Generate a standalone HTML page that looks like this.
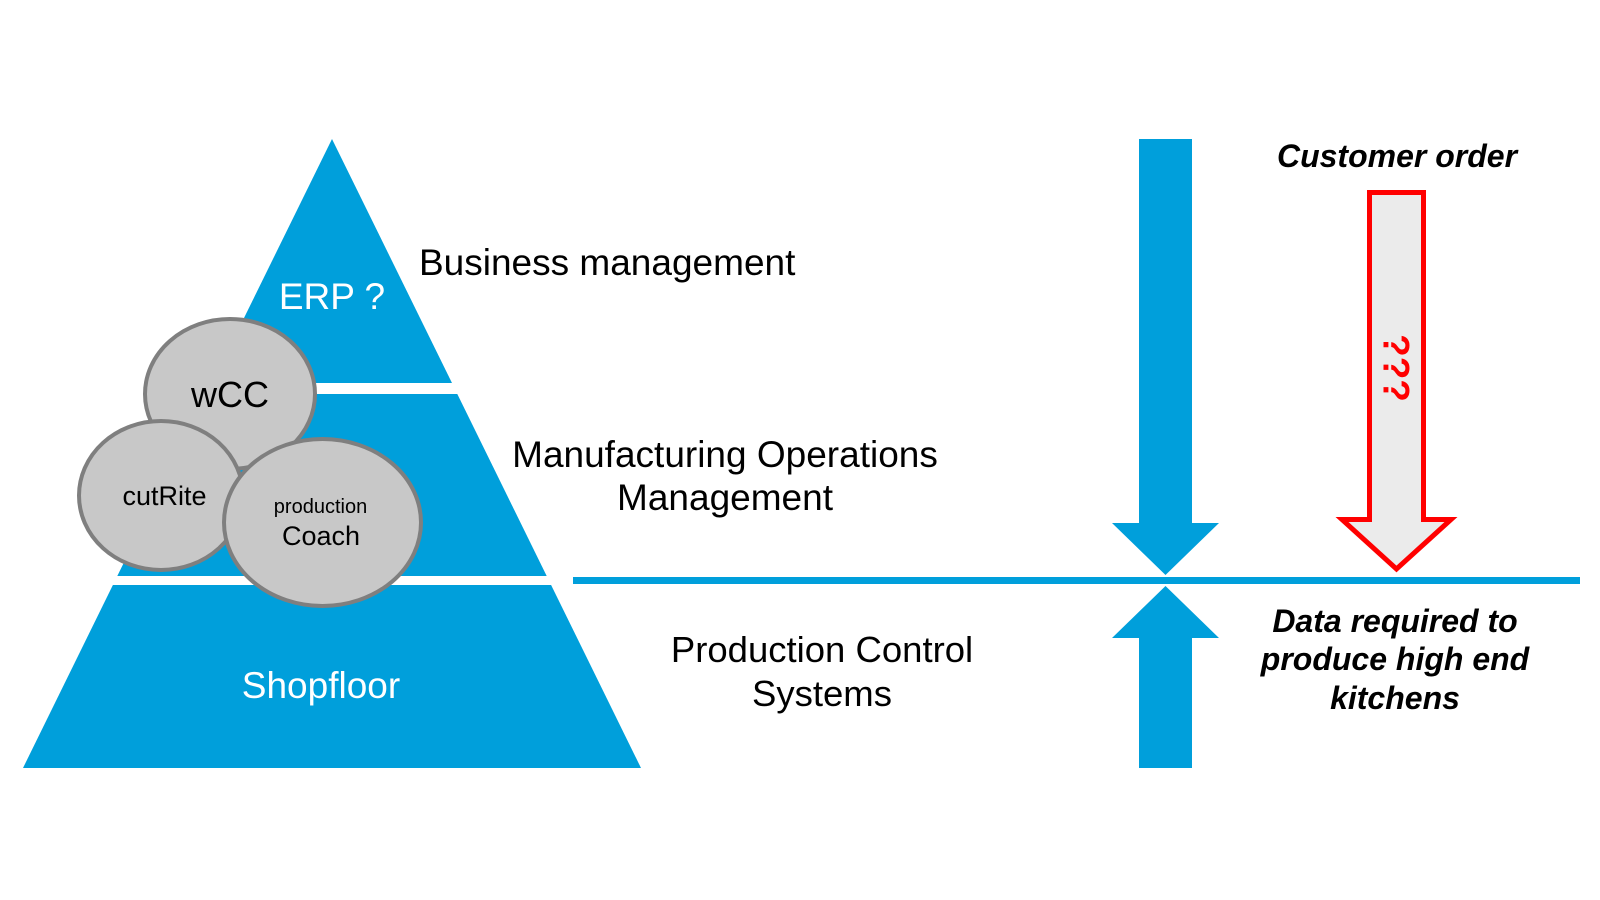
<!DOCTYPE html>
<html>
<head>
<meta charset="utf-8">
<style>
  html,body{margin:0;padding:0;background:#fff;}
  svg{display:block;}
  text{font-family:"Liberation Sans",Arial,sans-serif;}
</style>
</head>
<body>
<svg width="1600" height="900" viewBox="0 0 1600 900" xmlns="http://www.w3.org/2000/svg">
  <rect x="0" y="0" width="1600" height="900" fill="#ffffff"/>

  <!-- Pyramid -->
  <polygon points="332,139 452,383 212,383" fill="#009FDB"/>
  <polygon points="206.7,394 457.3,394 546.7,576 117.3,576" fill="#009FDB"/>
  <polygon points="112.9,585 551.1,585 641,768 23,768" fill="#009FDB"/>

  <text x="332" y="309" font-size="37" fill="#ffffff" text-anchor="middle">ERP ?</text>
  <text x="321" y="698" font-size="37" fill="#ffffff" text-anchor="middle">Shopfloor</text>

  <!-- Ellipses -->
  <ellipse cx="230" cy="394" rx="85" ry="75" fill="#C8C8C8" stroke="#7F7F7F" stroke-width="4"/>
  <text x="230" y="407" font-size="36" fill="#000" text-anchor="middle">wCC</text>

  <ellipse cx="161" cy="495.5" rx="82" ry="74.5" fill="#C8C8C8" stroke="#7F7F7F" stroke-width="4"/>
  <text x="164.5" y="505" font-size="27" fill="#000" text-anchor="middle">cutRite</text>

  <ellipse cx="322.5" cy="522.5" rx="98.5" ry="83.5" fill="#C8C8C8" stroke="#7F7F7F" stroke-width="4"/>
  <text x="320.5" y="513" font-size="20" fill="#000" text-anchor="middle">production</text>
  <text x="321" y="545" font-size="27" fill="#000" text-anchor="middle">Coach</text>

  <!-- Level labels -->
  <text x="419" y="275" font-size="37" fill="#000">Business management</text>
  <text x="725" y="467" font-size="37" fill="#000" text-anchor="middle">Manufacturing Operations</text>
  <text x="725" y="510" font-size="37" fill="#000" text-anchor="middle">Management</text>
  <text x="822" y="662" font-size="36.5" fill="#000" text-anchor="middle">Production Control</text>
  <text x="822" y="706" font-size="36.5" fill="#000" text-anchor="middle">Systems</text>

  <!-- Horizontal line -->
  <rect x="573" y="577" width="1007" height="7" fill="#009FDB"/>

  <!-- Blue arrows -->
  <polygon points="1139,139 1192,139 1192,523 1219,523 1165.5,575 1112,523 1139,523" fill="#009FDB"/>
  <polygon points="1165.5,586 1219,638 1192,638 1192,768 1139,768 1139,638 1112,638" fill="#009FDB"/>

  <!-- Red arrow -->
  <polygon points="1369.5,192.5 1423.5,192.5 1423.5,519.5 1451,519.5 1396.5,569 1342,519.5 1369.5,519.5" fill="#EBEBEB" stroke="#FF0000" stroke-width="5" stroke-linejoin="miter"/>
  <text transform="translate(1396.5,368) rotate(90)" x="0" y="13" font-size="37" font-weight="bold" fill="#FF0000" text-anchor="middle">???</text>

  <!-- Right texts -->
  <text x="1397" y="167" font-size="32" font-weight="bold" font-style="italic" fill="#000" text-anchor="middle">Customer order</text>
  <text x="1395" y="632" font-size="32" font-weight="bold" font-style="italic" fill="#000" text-anchor="middle">Data required to</text>
  <text x="1395" y="670" font-size="32" font-weight="bold" font-style="italic" fill="#000" text-anchor="middle">produce high end</text>
  <text x="1395" y="709" font-size="32" font-weight="bold" font-style="italic" fill="#000" text-anchor="middle">kitchens</text>
</svg>
</body>
</html>
